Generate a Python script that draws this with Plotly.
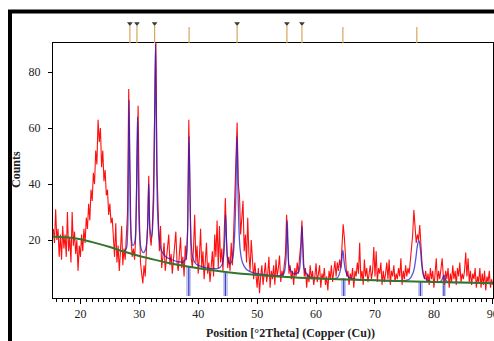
import plotly.graph_objects as go

# ---------------- data ----------------
scan_start = 15.4
scan_step = 0.2
counts = [
    24, 19, 31, 20, 24, 14, 22, 13, 25, 17,
    22, 14, 30, 16, 21, 12, 30, 18, 23, 15,
    20, 9, 18, 14, 22, 16, 24, 19, 28, 24,
    33, 27, 38, 34, 44, 40, 52, 47, 63, 55,
    60, 46, 52, 41, 45, 36, 38, 29, 33, 26,
    28, 20, 14, 26, 12, 18, 9, 16, 25, 11,
    17, 13, 24, 30, 74, 45, 20, 14, 17, 13,
    22, 48, 68, 30, 12, 8, 4.5, 11, 7, 16,
    25, 43, 22, 18, 24, 38, 70, 93, 45, 24,
    16, 25, 10, 14, 19, 9, 13, 17, 22, 11,
    15, 8, 13, 18, 23, 12, 9, 15, 21, 10,
    14, 7, 18, 13, 24, 63, 30, 14, 10, 17,
    29, 12, 18, 8, 14, 24, 10, 16, 6, 13,
    19, 8, 12, 5, 11, 16, 7, 22, 14, 27,
    10, 25, 12, 17, 9, 19, 35, 20, 10, 14,
    9, 19, 11, 22, 38, 47, 62, 40, 36, 22,
    27, 34, 16, 22, 12, 28, 15, 9, 20, 11,
    6, 12, 8, 3, 10, 1, 7, 11, 4, 9,
    12, 5, 8, 14, 3, 9, 6, 11, 4, 13,
    7, 10, 14.5, 5, 9, 7, 12, 15, 29, 17,
    8, 11, 6, 9, 4, 10, 7, 12, 8, 14,
    18, 27, 13, 7, 10, 3, 8, 5, 11, 6,
    9, 4, 7, 11.7, 5, 9, 11, 3, 8, 6,
    10, 4, 7, 2, 9, 6, 11, 5, 8, 12.5,
    7, 12, 9, 13, 10, 18, 25.6, 21, 11, 7,
    9, 4, 8, 6, 10, 3, 9, 7, 12, 8,
    19, 6, 9, 4, 13, 7, 10, 5, 8, 11,
    6, 9, 17.5, 7, 16, 5, 10, 8, 12, 4,
    9, 5, 8, 12, 6, 13, 4, 9, 7, 11,
    5, 8, 6, 10, 7, 13.5, 4, 9, 6, 11,
    7, 10, 8, 12, 16, 22, 30.7, 24, 19, 22,
    20, 25.4, 16, 11, 8, 6, 9, 5, 8, 4,
    10, 6, 9, 3, 8, 13.5, 5, 9, 6, 10,
    13.5, 7, 4, 9, 6, 10, 3, 8, 5, 11,
    6, 9, 4, 10, 7, 12, 5, 8, 6, 9,
    15.5, 7, 13.5, 5, 9, 4, 8, 6, 10, 3,
    7, 5, 10, 3, 8, 4, 9, 2, 7, 5,
    9, 3, 6, 4,
]
two_theta = [round(scan_start + scan_step * i, 2) for i in range(len(counts))]

# fitted profile (blue)
fit_x = [27.4, 27.8, 28.0, 28.15, 28.27, 28.4, 28.6, 28.9, 29.2, 29.45, 29.6, 29.7,
         29.82, 30.0, 30.3, 30.7, 31.1, 31.4, 31.6, 31.8, 32.1, 32.4, 32.6, 32.75,
         32.9, 33.1, 33.4, 33.8, 34.5, 35.5, 36.5, 37.5, 37.9, 38.15, 38.3, 38.45,
         38.6, 38.8, 39.1, 39.6, 40.5, 41.5, 42.5, 43.5, 44.0, 44.35, 44.55, 44.66,
         44.8, 45.0, 45.4, 45.8, 46.1, 46.35, 46.58, 46.8, 47.1, 47.5, 48.2, 49.5,
         51.0, 53.0, 54.4, 54.8, 55.0, 55.1, 55.25, 55.5, 56.2, 57.0, 57.35, 57.5,
         57.6, 57.75, 58.0, 58.8, 60.0, 62.0, 63.6, 64.1, 64.35, 64.55, 64.75, 65.0,
         65.5, 66.5, 70.0, 74.0, 75.8, 76.5, 76.9, 77.2, 77.45, 77.7, 77.95, 78.3,
         79.0, 81.0, 81.4, 81.7, 82.0, 82.5, 86.0, 90.0]
fit_y = [16.0, 17.0, 22.0, 45.0, 70.0, 42.0, 22.0, 18.0, 19.0, 28.0, 50.0, 64.0,
         45.0, 24.0, 17.0, 15.5, 17.0, 24.0, 40.0, 24.0, 21.0, 32.0, 62.0, 90.0,
         60.0, 30.0, 20.0, 16.0, 14.0, 13.0, 12.3, 12.2, 13.5, 20.0, 38.0, 57.0,
         36.0, 19.0, 13.5, 11.5, 10.6, 10.0, 9.8, 10.0, 11.0, 15.0, 24.0, 29.0,
         20.0, 13.5, 11.5, 13.0, 19.0, 33.0, 57.0, 33.0, 17.0, 12.0, 9.5, 8.2,
         7.7, 7.3, 7.6, 11.0, 20.0, 27.0, 18.0, 10.0, 8.0, 8.5, 13.0, 20.0,
         25.0, 17.0, 9.5, 7.0, 6.5, 6.2, 6.5, 9.0, 12.5, 16.4, 12.5, 9.0,
         6.8, 6.0, 5.6, 5.4, 6.0, 8.5, 13.0, 18.0, 20.0, 17.0, 11.0, 7.0,
         5.5, 5.1, 6.0, 7.5, 5.8, 5.0, 4.8, 4.6]

# background (green)
bg_x = [15.4, 17.5, 20, 22.5, 25, 27.5, 30, 32.5, 35, 37.5, 40, 45, 50, 55, 60, 65, 70, 75, 80, 85, 90]
bg_y = [21.2, 21.0, 20.3, 19.0, 17.5, 15.8, 14.3, 13.0, 11.8, 10.8, 9.9, 8.5, 7.5, 6.8, 6.3, 5.9, 5.6, 5.3, 5.0, 4.8, 4.6]

# reference sticks at the bottom (blue)
stick_pos = [38.4, 44.6, 64.7, 77.7, 81.7]
stick_h = [10.5, 8.3, 6.3, 5.0, 6.4]

# peak list markers above the plot
ref_pos = [28.4, 29.6, 32.6, 38.45, 46.6, 55.05, 57.6, 64.55, 77.1]
ref_marked = [True, True, True, False, True, True, True, False, False]

# ---------------- figure ----------------
fig = go.Figure()

fig.add_trace(go.Bar(x=stick_pos, y=stick_h, width=0.8,
                     marker=dict(color="rgba(160,170,235,0.65)", line=dict(width=0)),
                     hoverinfo="skip"))
sx, sy = [], []
for p, h in zip(stick_pos, stick_h):
    sx += [p, p, None]
    sy += [0, h, None]
fig.add_trace(go.Scatter(x=sx, y=sy, mode="lines", line=dict(color="#2a2ab8", width=1)))

fig.add_trace(go.Scatter(x=two_theta, y=counts, mode="lines",
                         line=dict(color="#ff1010", width=1.1)))
fig.add_trace(go.Scatter(x=fit_x, y=fit_y, mode="lines", line_shape="spline",
                         line=dict(color="rgba(30,30,200,0.75)", width=1.3)))
fig.add_trace(go.Scatter(x=bg_x, y=bg_y, mode="lines", line_shape="spline",
                         line=dict(color="#33752a", width=2)))

# top strip
rx, ry = [], []
for p, m in zip(ref_pos, ref_marked):
    rx += [p, p, None]
    ry += [0, 17 if m else 16, None]
fig.add_trace(go.Scatter(x=rx, y=ry, mode="lines", xaxis="x2", yaxis="y2",
                         line=dict(color="#d9a55a", width=1.2)))
mx = [p for p, m in zip(ref_pos, ref_marked) if m]
fig.add_trace(go.Scatter(x=mx, y=[19.5] * len(mx), mode="markers", xaxis="x2", yaxis="y2",
                         marker=dict(symbol="triangle-down", size=5, color="#3a3a3a")))

L, R, T, B = 53, 1, 20, 43
W, H = 494, 341
ph = H - T - B
pw = W - L - R
main_top = (298 - 43) / ph

font_fam = "Liberation Serif, Times New Roman, serif"
fig.update_layout(
    width=W, height=H,
    margin=dict(l=L, r=R, t=T, b=B, autoexpand=False),
    paper_bgcolor="white", plot_bgcolor="white",
    showlegend=False,
    font=dict(family=font_fam, size=12, color="#222"),
    xaxis=dict(range=[15.35, 90.03], domain=[0, 1], anchor="y", automargin=False,
               showgrid=False, zeroline=False,
               showline=True, linecolor="black", linewidth=1, mirror=True,
               ticks="outside", ticklen=5, tickcolor="black", dtick=10, tick0=0,
               ticklabeloverflow="allow",
               tickfont=dict(family=font_fam, size=12, color="#222"),
               minor=dict(dtick=1, ticks="outside", ticklen=3, tickcolor="black")),
    yaxis=dict(range=[-0.7, 90.4], domain=[0, main_top], anchor="x", automargin=False,
               showgrid=False, zeroline=False,
               showline=True, linecolor="black", linewidth=1, mirror=True,
               ticks="outside", ticklen=4, tickcolor="black",
               tickvals=[20, 40, 60, 80], ticklabelstandoff=5,
               tickfont=dict(family=font_fam, size=12, color="#222")),
    xaxis2=dict(range=[15.35, 90.03], domain=[0, 1], anchor="y2", visible=False, matches="x"),
    yaxis2=dict(range=[0, 23], domain=[main_top, 1], anchor="x2", visible=False),
    bargap=0,
)

fig.add_annotation(text="<b>Position [°2Theta] (Copper (Cu))</b>", xref="paper", yref="paper",
                   x=(290 - L) / pw, y=-(333 - 298) / ph, showarrow=False,
                   font=dict(family=font_fam, size=12, color="#222"),
                   xanchor="center", yanchor="middle")
fig.add_annotation(text="<b>Counts</b>", xref="paper", yref="paper",
                   x=(16 - L) / pw, y=(298 - 170) / ph, showarrow=False, textangle=-90,
                   font=dict(family=font_fam, size=12, color="#222"),
                   xanchor="center", yanchor="middle")

# outer black frame (left and top edges visible)
def px_x(px):
    return (px - L) / pw

def px_y(py):
    return (298 - py) / ph

fig.add_shape(type="line", xref="paper", yref="paper",
              x0=px_x(10), x1=px_x(10), y0=px_y(10), y1=px_y(360),
              line=dict(color="black", width=4))
fig.add_shape(type="line", xref="paper", yref="paper",
              x0=px_x(8), x1=px_x(520), y0=px_y(11.5), y1=px_y(11.5),
              line=dict(color="black", width=4))

fig.write_html("out.html", config={"displayModeBar": False},
               post_script="document.body.style.margin='0';document.body.style.overflow='hidden';")
